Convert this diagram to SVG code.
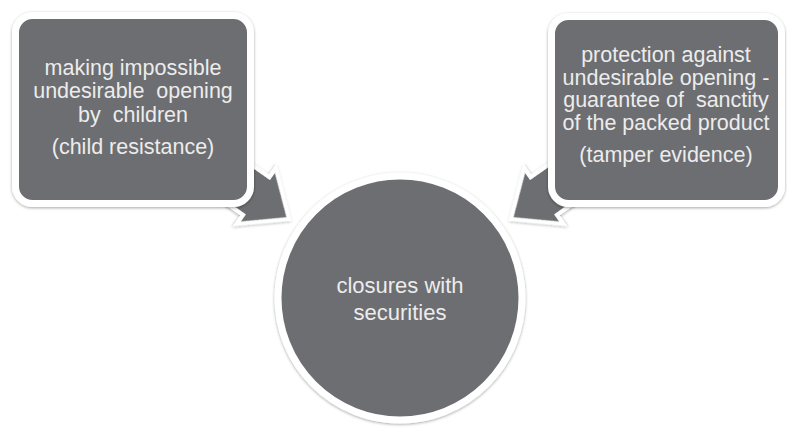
<svg xmlns="http://www.w3.org/2000/svg" width="787" height="428" viewBox="0 0 787 428">
<defs>
<filter id="sh" x="-10%" y="-10%" width="120%" height="120%">
<feDropShadow dx="0" dy="1" stdDeviation="1.5" flood-color="#000" flood-opacity="0.35"/>
</filter>
<polygon id="arr" points="0,0 -40,-34 -40,-23 -140,-23 -140,23 -40,23 -40,34"/>
</defs>
<style>
.shape{fill:#6d6e71;stroke:#ffffff;stroke-width:7;filter:url(#sh)}
.arrow{fill:#6d6e71;stroke:#ffffff;stroke-width:4;stroke-linejoin:miter;filter:url(#sh)}
text{font-family:"Liberation Sans",Arial,sans-serif;font-size:21.5px;fill:#ececec;text-anchor:middle;white-space:pre}
.big{font-size:22px}
</style>
<rect width="787" height="428" fill="#ffffff"/>
<g id="connectors">
<use href="#arr" class="arrow" transform="translate(289,219) rotate(35)"/>
<use href="#arr" class="arrow" transform="translate(511,219) scale(-1,1) rotate(35)"/>
</g>
<g id="node-left">
<rect class="shape" x="15.5" y="15.5" width="235" height="188" rx="17"/>
<text x="133" y="75">making impossible</text>
<text x="133" y="98">undesirable  opening</text>
<text x="133" y="122">by  children</text>
<text x="133" y="154">(child resistance)</text>
</g>
<g id="node-right">
<rect class="shape" x="551.5" y="16.5" width="230" height="187" rx="17"/>
<text x="666" y="62">protection against</text>
<text x="666" y="85">undesirable opening -</text>
<text x="666" y="107">guarantee of  sanctity</text>
<text x="666" y="130">of the packed product</text>
<text x="666" y="162">(tamper evidence)</text>
</g>
<g id="node-center">
<circle class="shape" cx="400" cy="298" r="122"/>
<text class="big" x="400" y="293">closures with</text>
<text class="big" x="400" y="320">securities</text>
</g>
</svg>
